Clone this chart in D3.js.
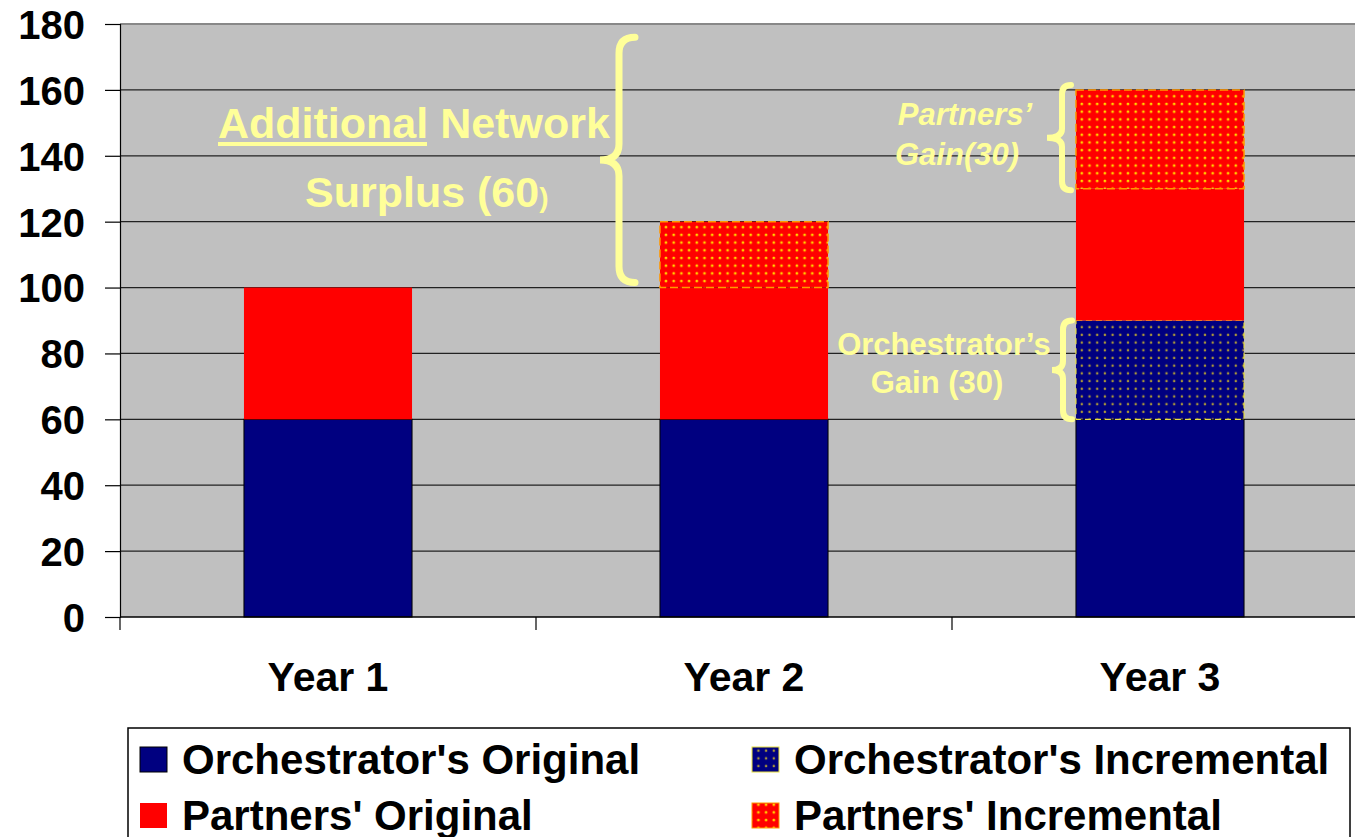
<!DOCTYPE html>
<html>
<head>
<meta charset="utf-8">
<script src="https://cdn.jsdelivr.net/npm/d3@7"></script>
<style>
  body { margin: 0; background: #fff; }
  svg { display: block; font-family: "Liberation Sans", Arial, sans-serif; }
</style>
</head>
<body>
<div id="chart"></div>
<script>
// data
var years = ["Year 1", "Year 2", "Year 3"];
var orchOriginal = [60, 60, 60];
var orchIncremental = [0, 0, 30];
var partnersOriginal = [40, 40, 40];
var partnersIncremental = [0, 20, 30];
var yTicks = [0, 20, 40, 60, 80, 100, 120, 140, 160, 180];
var seriesNames = ["Orchestrator's Original", "Orchestrator's Incremental", "Partners' Original", "Partners' Incremental"];

var width = 1355, height = 837;
var plot = { left: 120, right: 1368, top: 24, bottom: 617 };

var svg = d3.select("#chart").append("svg")
  .attr("width", width)
  .attr("height", height);

// patterns for the incremental pieces
var defs = svg.append("defs");
var pRed = defs.append("pattern")
  .attr("id", "dotsRed")
  .attr("patternUnits", "userSpaceOnUse")
  .attr("width", 7.7).attr("height", 7.7);
pRed.append("rect").attr("width", 7.7).attr("height", 7.7).attr("fill", "#ff0000");
pRed.append("circle").attr("cx", 3.8).attr("cy", 3.8).attr("r", 1.5).attr("fill", "#ffa000");
pRed.append("circle").attr("cx", 3.8).attr("cy", 3.8).attr("r", 0.8).attr("fill", "#ffff00");

var pBlue = defs.append("pattern")
  .attr("id", "dotsBlue")
  .attr("patternUnits", "userSpaceOnUse")
  .attr("width", 7.7).attr("height", 7.7);
pBlue.append("rect").attr("width", 7.7).attr("height", 7.7).attr("fill", "#000080");
pBlue.append("circle").attr("cx", 3.8).attr("cy", 3.8).attr("r", 1.3).attr("fill", "#8a7a40");
pBlue.append("circle").attr("cx", 3.8).attr("cy", 3.8).attr("r", 0.7).attr("fill", "#d8c030");

var styles = [
  { fill: "#000080", stroke: "#000", dash: null, sw: 1 },
  { fill: "url(#dotsBlue)", stroke: "#e8e040", dash: "6,4", sw: 1.2 },
  { fill: "#ff0000", stroke: "none", dash: null, sw: 0 },
  { fill: "url(#dotsRed)", stroke: "#ff9900", dash: "8,4", sw: 1.5 }
];

// scales
var x = d3.scaleBand().domain(years).range([plot.left, plot.right]).padding(0);
var y = d3.scaleLinear().domain([0, 180]).range([plot.bottom, plot.top]);
var barW = x.bandwidth() * 0.404;

// plot background
svg.append("rect")
  .attr("x", plot.left).attr("y", plot.top)
  .attr("width", plot.right - plot.left).attr("height", plot.bottom - plot.top)
  .attr("fill", "#c0c0c0");

// gridlines
svg.append("g").selectAll("line")
  .data(yTicks.filter(function(d) { return d > 0 && d < 180; }))
  .enter().append("line")
  .attr("x1", plot.left).attr("x2", plot.right)
  .attr("y1", function(d) { return y(d); }).attr("y2", function(d) { return y(d); })
  .attr("stroke", "#222").attr("stroke-width", 1.2);

svg.append("line")
  .attr("x1", plot.left).attr("x2", plot.right)
  .attr("y1", y(180)).attr("y2", y(180))
  .attr("stroke", "#888").attr("stroke-width", 2);

// stacked bars
var rows = years.map(function(yr, i) {
  return { year: yr, s0: orchOriginal[i], s1: orchIncremental[i], s2: partnersOriginal[i], s3: partnersIncremental[i] };
});
var stack = d3.stack().keys(["s0", "s1", "s2", "s3"])(rows);

svg.append("g").selectAll("g")
  .data(stack)
  .enter().append("g")
  .each(function(layer, li) {
    var st = styles[li];
    d3.select(this).selectAll("rect")
      .data(layer.filter(function(d) { return d[1] - d[0] > 0; }))
      .enter().append("rect")
      .attr("x", function(d) { return x(d.data.year) + (x.bandwidth() - barW) / 2; })
      .attr("width", barW)
      .attr("y", function(d) { return y(d[1]); })
      .attr("height", function(d) { return y(d[0]) - y(d[1]); })
      .attr("fill", st.fill)
      .attr("stroke", st.stroke)
      .attr("stroke-width", st.sw)
      .attr("stroke-dasharray", st.dash);
  });

// axes
var yAxis = d3.axisLeft(y).tickValues(yTicks).tickSize(15).tickPadding(20);
var gy = svg.append("g")
  .attr("transform", "translate(" + plot.left + ",0)")
  .call(yAxis);
gy.select(".domain").attr("stroke", "#000").attr("stroke-width", 1.2);
gy.selectAll(".tick line").attr("stroke", "#000").attr("stroke-width", 1.2);
gy.selectAll(".tick text")
  .attr("font-size", 40).attr("font-weight", "bold").attr("fill", "#000")
  .attr("font-family", "Liberation Sans, Arial, sans-serif")
  .attr("dy", "0.36em");

var gx = svg.append("g")
  .attr("transform", "translate(0," + plot.bottom + ")");
gx.append("line")
  .attr("x1", plot.left).attr("x2", plot.right)
  .attr("stroke", "#000").attr("stroke-width", 1.5);
gx.selectAll(".xt")
  .data(years.map(function(d) { return x(d); }))
  .enter().append("line")
  .attr("x1", function(d) { return d; }).attr("x2", function(d) { return d; })
  .attr("y1", 0).attr("y2", 13)
  .attr("stroke", "#000").attr("stroke-width", 1.2);
gx.selectAll("text")
  .data(years)
  .enter().append("text")
  .attr("x", function(d) { return x(d) + x.bandwidth() / 2; })
  .attr("y", 74)
  .attr("text-anchor", "middle")
  .attr("font-size", 41).attr("font-weight", "bold")
  .text(function(d) { return d; });

// braces
function bracePath(bx, v1, v2, tipX, c) {
  var y1 = y(v2), y2 = y(v1), ym = (y1 + y2) / 2;
  return "M" + (bx + c) + "," + y1 +
    " Q" + bx + "," + y1 + " " + bx + "," + (y1 + c) +
    " L" + bx + "," + (ym - c) +
    " Q" + bx + "," + ym + " " + tipX + "," + ym +
    " Q" + bx + "," + ym + " " + bx + "," + (ym + c) +
    " L" + bx + "," + (y2 - c) +
    " Q" + bx + "," + y2 + " " + (bx + c) + "," + y2;
}
var yellow = "#ffff99";
var ann = svg.append("g");
ann.append("path").attr("d", bracePath(619, 101.5, 176, 600, 16))
  .attr("fill", "none").attr("stroke", yellow).attr("stroke-width", 7).attr("stroke-linecap", "round");
ann.append("path").attr("d", bracePath(1062, 129.5, 161.5, 1047, 9))
  .attr("fill", "none").attr("stroke", yellow).attr("stroke-width", 6).attr("stroke-linecap", "round");
ann.append("path").attr("d", bracePath(1063, 60, 90, 1052, 9))
  .attr("fill", "none").attr("stroke", yellow).attr("stroke-width", 6).attr("stroke-linecap", "round");

// annotation texts
var t1 = ann.append("text")
  .attr("x", 218).attr("y", 138)
  .attr("font-size", 43).attr("font-weight", "bold").attr("fill", yellow);
t1.append("tspan").text("Additional");
t1.append("tspan").text(" Network");
ann.append("rect").attr("x", 218).attr("y", 142).attr("width", 209).attr("height", 4).attr("fill", yellow);

var t2 = ann.append("text")
  .attr("x", 305).attr("y", 207)
  .attr("font-size", 43).attr("font-weight", "bold").attr("fill", yellow);
t2.append("tspan").text("Surplus (60");
t2.append("tspan").attr("font-size", 28).text(")");

ann.append("text").attr("x", 965).attr("y", 125).attr("text-anchor", "middle")
  .attr("font-size", 31).attr("font-weight", "bold").attr("font-style", "italic").attr("fill", yellow)
  .text("Partners\u2019");
ann.append("text").attr("x", 957).attr("y", 165).attr("text-anchor", "middle")
  .attr("font-size", 31).attr("font-weight", "bold").attr("font-style", "italic").attr("fill", yellow)
  .text("Gain(30)");

ann.append("text").attr("x", 944).attr("y", 355).attr("text-anchor", "middle")
  .attr("font-size", 31).attr("font-weight", "bold").attr("fill", yellow)
  .text("Orchestrator\u2019s");
ann.append("text").attr("x", 937).attr("y", 393).attr("text-anchor", "middle")
  .attr("font-size", 31).attr("font-weight", "bold").attr("fill", yellow)
  .text("Gain (30)");

// legend
var legend = svg.append("g");
legend.append("rect")
  .attr("x", 128).attr("y", 728).attr("width", 1222).attr("height", 130)
  .attr("fill", "#fff").attr("stroke", "#000").attr("stroke-width", 1.5);

var legendPos = [
  { x: 140, y: 747 }, { x: 752, y: 747 },
  { x: 140, y: 803 }, { x: 752, y: 803 }
];
seriesNames.forEach(function(name, i) {
  var p = legendPos[i], st = styles[i];
  legend.append("rect")
    .attr("x", p.x).attr("y", p.y).attr("width", 27).attr("height", 25)
    .attr("fill", st.fill)
    .attr("stroke", i === 2 ? "none" : (i === 0 ? "#000" : st.stroke))
    .attr("stroke-width", 1);
  legend.append("text")
    .attr("x", p.x + 42).attr("y", p.y + 27)
    .attr("font-size", 42).attr("font-weight", "bold")
    .text(name);
});
</script>
</body>
</html>
